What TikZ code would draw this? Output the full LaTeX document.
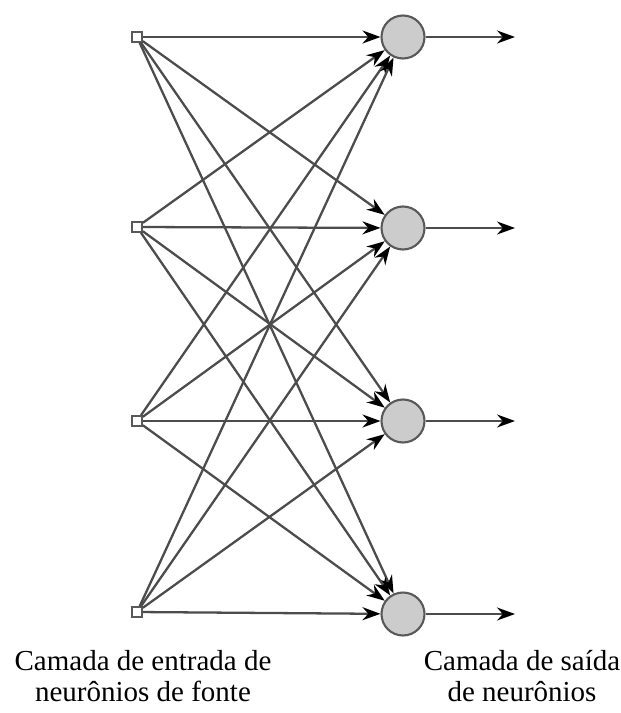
\documentclass[tikz,border=0pt]{standalone}
\usepackage{fontspec}
\setmainfont{Liberation Serif}
\usetikzlibrary{arrows.meta,positioning}

\begin{document}
\begin{tikzpicture}[
  x=0.02cm, y=-0.02cm,
  source/.style={rectangle, draw=gray!70!black, fill=white, line width=1pt, minimum size=0.2cm, inner sep=0pt},
  neuron/.style={circle, draw=gray!70!black, fill=gray!40, line width=1.2pt, minimum size=0.86cm, inner sep=0pt},
  link/.style={-{Stealth[length=3.6mm,width=2.6mm,color=black]}, line width=1.3pt, draw=gray!60!black},
  caption/.style={font=\fontsize{16.5}{18}\selectfont, align=center}
]
\useasboundingbox (0,0) rectangle (621,713);

% camada de entrada
\node[source] (in1) at (137,37) {};
\node[source] (in2) at (137,227) {};
\node[source] (in3) at (137,421) {};
\node[source] (in4) at (137,612) {};

% camada de saida
\node[neuron] (out1) at (403,37) {};
\node[neuron] (out2) at (403,228) {};
\node[neuron] (out3) at (403,421) {};
\node[neuron] (out4) at (403,614) {};

\coordinate (y1) at (515,37);
\coordinate (y2) at (515,228);
\coordinate (y3) at (515,421);
\coordinate (y4) at (515,614);

\draw[link] (in1) -- (out1);
\draw[link] (in1) -- (out2);
\draw[link] (in1) -- (out3);
\draw[link] (in1) -- (out4);
\draw[link] (in2) -- (out1);
\draw[link] (in2) -- (out2);
\draw[link] (in2) -- (out3);
\draw[link] (in2) -- (out4);
\draw[link] (in3) -- (out1);
\draw[link] (in3) -- (out2);
\draw[link] (in3) -- (out3);
\draw[link] (in3) -- (out4);
\draw[link] (in4) -- (out1);
\draw[link] (in4) -- (out2);
\draw[link] (in4) -- (out3);
\draw[link] (in4) -- (out4);

\draw[link] (out1) -- (y1);
\draw[link] (out2) -- (y2);
\draw[link] (out3) -- (y3);
\draw[link] (out4) -- (y4);

\node[caption] (capin) at (143,676) {Camada de entrada de\\neurônios de fonte};
\node[caption] (capout) at (522,676) {Camada de saída\\de neurônios};

\end{tikzpicture}
\end{document}
